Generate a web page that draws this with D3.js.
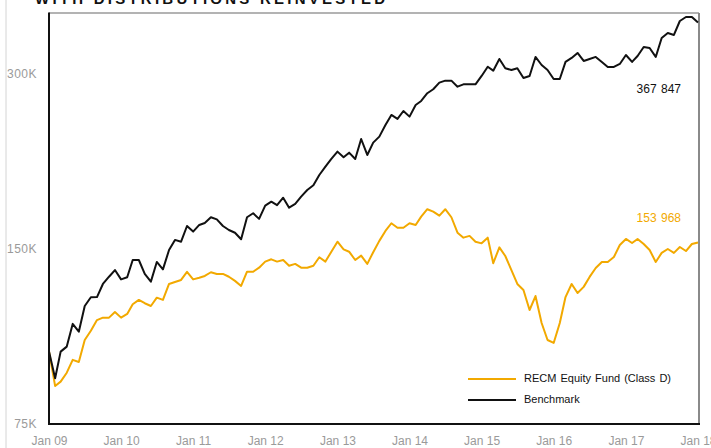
<!DOCTYPE html>
<html>
<head>
<meta charset="utf-8">
<script src="https://cdn.jsdelivr.net/npm/d3@7/dist/d3.min.js"></script>
<style>
  html, body { margin: 0; padding: 0; background: #fff; }
  svg { display: block; }
  text { font-family: "Liberation Sans Narrow", "Arial Narrow", "Liberation Sans", sans-serif; }
</style>
</head>
<body>
<svg id="chart" width="711" height="448"></svg>
<script>
const title = "WITH DISTRIBUTIONS REINVESTED";
const startMonth = new Date(2009, 0, 1);
const endMonth = new Date(2018, 0, 1);
const seriesNames = ["RECM Equity Fund (Class D)", "Benchmark"];
const seriesColors = ["#f2a900", "#111111"];
const fundValues = [
  100000, 87200, 88700, 91900, 96700, 95900, 104600, 108500, 113200, 114300, 114300, 116900,
  114300, 116000, 120500, 122600, 121000, 119700, 123700, 122600, 130600, 131600, 132700, 137000,
  133000, 133900, 134800, 136800, 135900, 135900, 134400, 132200, 129600, 137100, 137100, 139300,
  142700, 144000, 142700, 143600, 140400, 141400, 139300, 139300, 140400, 145200, 142700, 148400,
  154400, 149800, 148400, 143600, 146100, 141400, 148100, 154900, 161100, 166100, 163200, 163200,
  166100, 165000, 170500, 175600, 173900, 171200, 175600, 170100, 160000, 156900, 158000, 154400,
  153400, 156900, 141800, 151000, 145900, 138000, 130600, 127500, 117800, 124500, 111900, 104600,
  103400, 111900, 124000, 130600, 126000, 129100, 134300, 139100, 142500, 142500, 145300, 152400,
  156100, 153600, 156100, 153000, 149400, 142500, 147700, 150000, 147700, 151200, 148800, 153000,
  153968
];
const benchmarkValues = [
  100000, 89900, 99900, 101900, 111500, 108100, 119700, 123900, 124000, 130600, 134400, 138000,
  133000, 134100, 143600, 143600, 135900, 131800, 142500, 138400, 149400, 155500, 154400, 164300,
  160700, 165000, 166300, 170100, 168700, 164300, 161700, 160000, 155900, 170100, 172800, 169000,
  178100, 180900, 178400, 183800, 176700, 179300, 184600, 189500, 193100, 201100, 207800, 214300,
  220600, 215700, 219700, 214300, 231900, 217700, 228600, 234100, 245200, 255100, 251100, 259100,
  253400, 265400, 269600, 278000, 282400, 289900, 292200, 292200, 285300, 288000, 288000, 288000,
  297700, 308800, 304000, 318400, 306900, 304800, 306900, 295300, 297700, 321000, 310900, 304800,
  294100, 294100, 314700, 319700, 326100, 315900, 318400, 321000, 314700, 308500, 308500, 312200,
  323500, 314700, 322200, 333900, 332600, 321000, 346000, 352900, 350200, 370100, 376000, 376000,
  367847
];
const endLabels = ["153 968", "367 847"];
const yTickValues = [75000, 150000, 300000];
const yTickLabels = ["75K", "150K", "300K"];
const yMin = 75000, yMax = 382000;

const svg = d3.select("#chart");
const L = 49, R = 699, T = 13, B = 424;

const months = d3.timeMonth.range(startMonth, d3.timeMonth.offset(endMonth, 1));
const x = d3.scaleTime().domain([startMonth, endMonth]).range([L, 698]);
const y = d3.scaleLog().domain([yMin, yMax]).range([B, T]);

// faint page guide line on the left
svg.append("line").attr("x1", 6).attr("x2", 6).attr("y1", 0).attr("y2", 448)
  .attr("stroke", "#d4d4d4").attr("stroke-width", 1);

// title (cut off at top, as in the source)
svg.append("text").attr("x", 35).attr("y", 4)
  .attr("textLength", 350).attr("lengthAdjust", "spacing")
  .style("font-family", "'Liberation Sans', Arial, sans-serif")
  .style("font-weight", "bold").style("font-size", "15px").attr("fill", "#111")
  .text(title);

// frame
svg.append("line").attr("x1", L).attr("x2", R).attr("y1", T).attr("y2", T)
  .attr("stroke", "#9a9a9a").attr("stroke-width", 1.5);
svg.append("line").attr("x1", R).attr("x2", R).attr("y1", T).attr("y2", B)
  .attr("stroke", "#8a8a8a").attr("stroke-width", 2);

// lines
const line = d3.line().x((d, i) => x(months[i])).y(d => y(d));
[fundValues, benchmarkValues].forEach((vals, k) => {
  svg.append("path").datum(vals)
    .attr("d", line).attr("fill", "none")
    .attr("stroke", seriesColors[k]).attr("stroke-width", 2)
    .attr("stroke-linejoin", "round");
});

svg.append("line").attr("x1", L).attr("x2", L).attr("y1", T - 0.5).attr("y2", B + 1)
  .attr("stroke", "#111").attr("stroke-width", 2);
svg.append("line").attr("x1", L - 1).attr("x2", R + 1).attr("y1", B).attr("y2", B)
  .attr("stroke", "#111").attr("stroke-width", 2);

// y axis
const yAxis = d3.axisLeft(y).tickValues(yTickValues)
  .tickFormat((d, i) => yTickLabels[i]).tickSize(0).tickPadding(12);
const gy = svg.append("g").attr("transform", `translate(${L},0)`).call(yAxis);
gy.select(".domain").remove();
gy.selectAll("text").attr("fill", "#9a9a9a").style("font-size", "12px")
  .style("letter-spacing", "0.5px")
  .style("font-family", "'Liberation Sans Narrow', 'Arial Narrow', sans-serif");

// x axis
const xAxis = d3.axisBottom(x).ticks(d3.timeYear.every(1))
  .tickFormat(d3.timeFormat("%b %y")).tickSize(0).tickPadding(12);
const gx = svg.append("g").attr("transform", `translate(0,${B})`).call(xAxis);
gx.select(".domain").remove();
gx.selectAll("text").attr("fill", "#9a9a9a").style("font-size", "12px")
  .style("font-family", "'Liberation Sans Narrow', 'Arial Narrow', sans-serif");

// end labels
const lastI = months.length - 1;
svg.append("text").attr("x", x(months[lastI]) - 17).attr("y", y(fundValues[lastI]) - 24)
  .attr("text-anchor", "end").attr("dominant-baseline", "middle")
  .attr("fill", seriesColors[0]).style("font-size", "12px").style("word-spacing", "1px")
  .text(endLabels[0]);
svg.append("text").attr("x", x(months[lastI]) - 17).attr("y", y(benchmarkValues[lastI]) + 67)
  .attr("text-anchor", "end").attr("dominant-baseline", "middle")
  .attr("fill", "#111").style("font-size", "12px").style("word-spacing", "1px")
  .text(endLabels[1]);

// legend
const lg = svg.append("g").attr("transform", "translate(468,379)");
seriesNames.forEach((name, k) => {
  const row = lg.append("g").attr("transform", `translate(0,${k * 21})`);
  row.append("line").attr("x1", 0).attr("x2", 48).attr("y1", 0).attr("y2", 0)
    .attr("stroke", seriesColors[k]).attr("stroke-width", 2);
  row.append("text").attr("x", 56).attr("y", 0).attr("dominant-baseline", "middle")
    .attr("fill", "#111").style("font-size", "11px").style("word-spacing", "1px")
    .text(name);
});
</script>
</body>
</html>
